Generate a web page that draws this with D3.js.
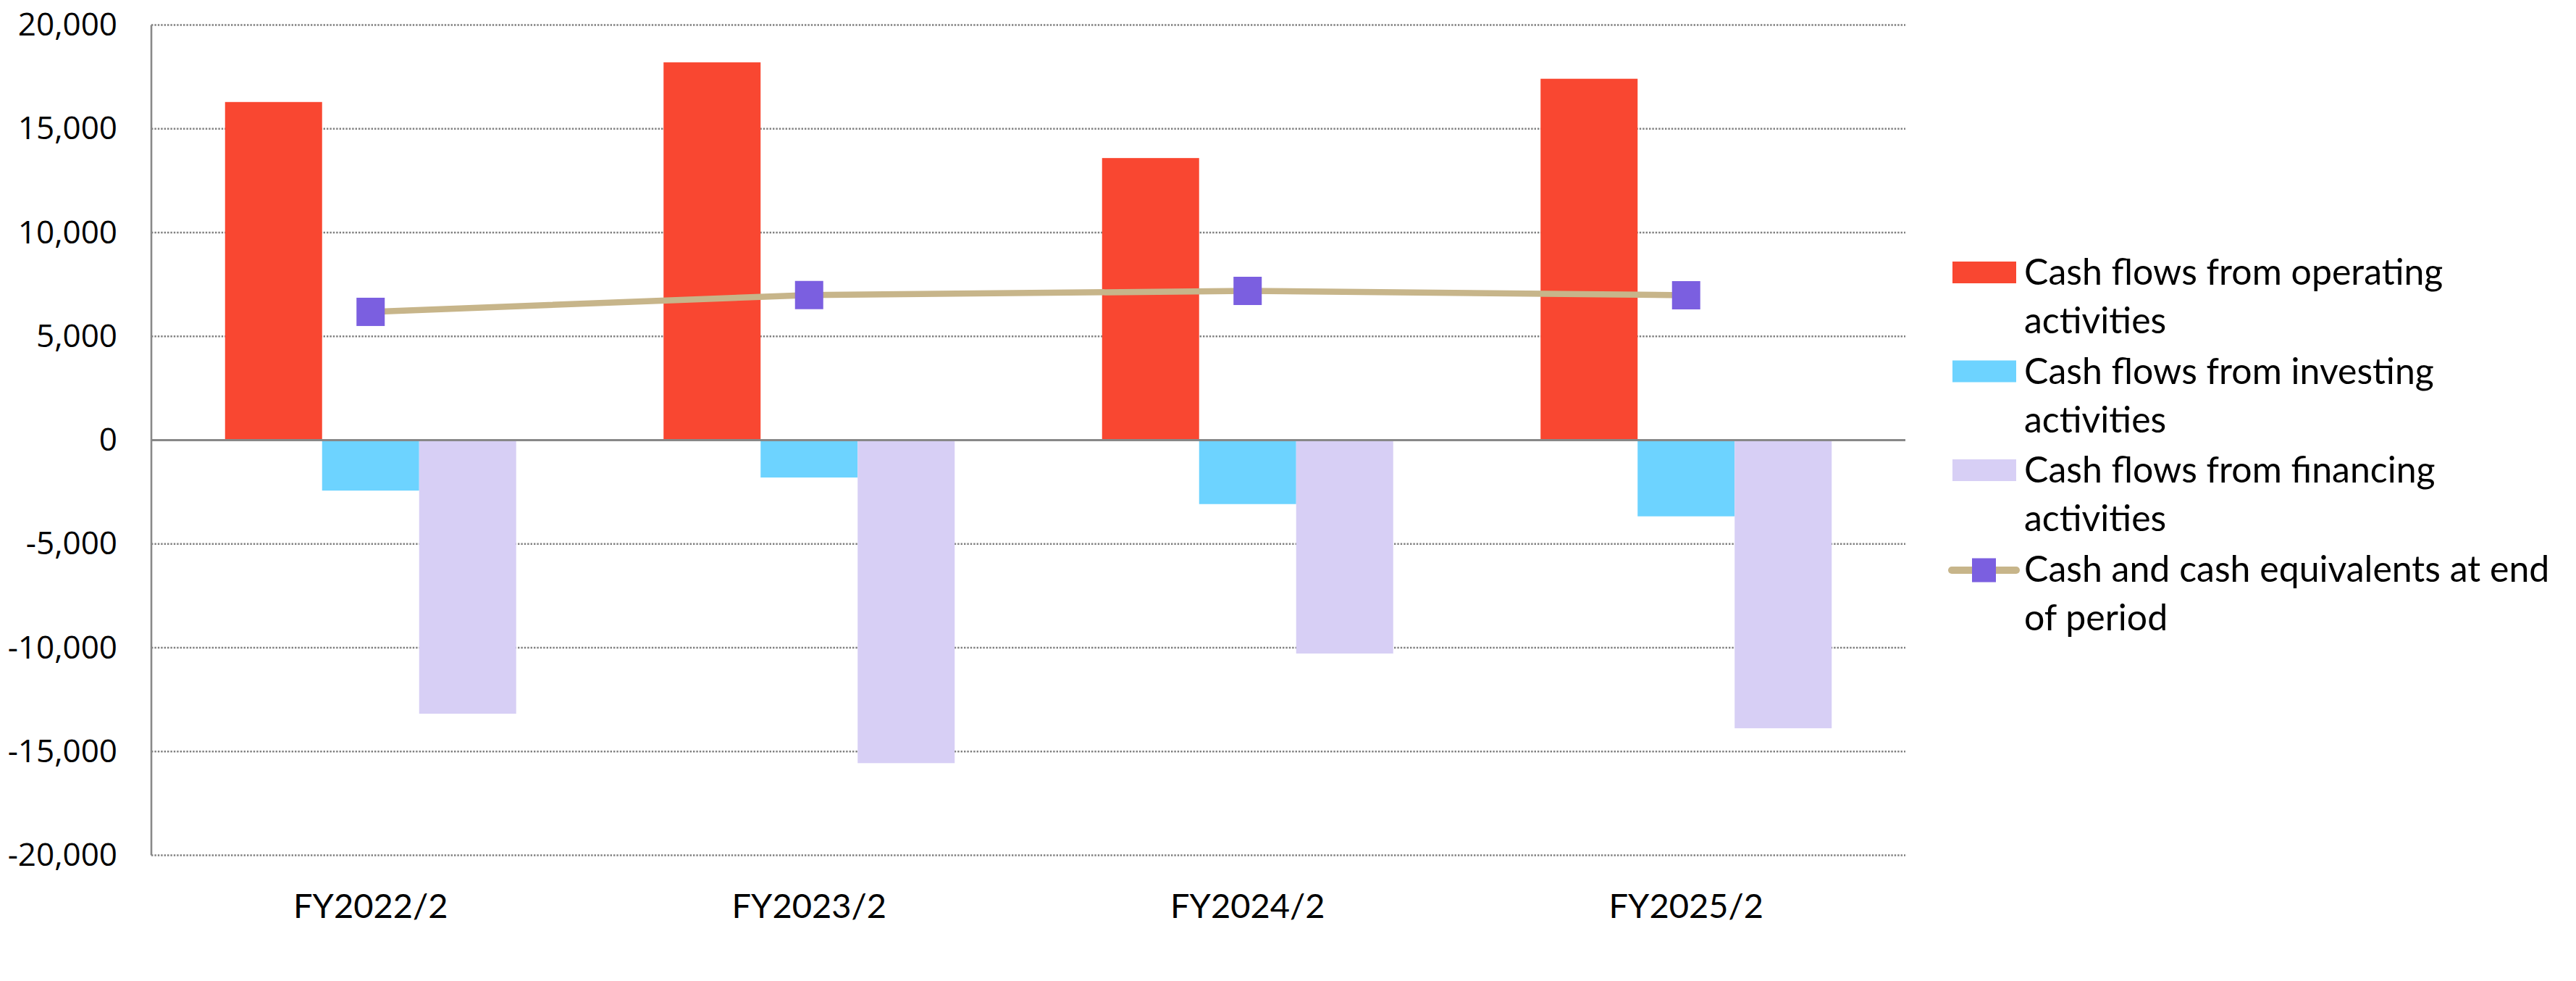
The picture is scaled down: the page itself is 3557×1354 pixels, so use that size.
<!DOCTYPE html>
<html>
<head>
<meta charset="utf-8">
<script src="https://cdn.jsdelivr.net/npm/d3@7"></script>
<style>
  html, body { margin: 0; padding: 0; background: #ffffff; }
  svg { display: block; }
</style>
</head>
<body>
<svg id="chart" width="3557" height="1354"></svg>
<script>
// ---- data ----
const categories = ["FY2022/2", "FY2023/2", "FY2024/2", "FY2025/2"];
const operating = [16290, 18200, 13590, 17410];
const investing = [-2430, -1800, -3080, -3670];
const financing = [-13180, -15560, -10280, -13880];
const cashEnd = [6180, 6990, 7190, 6980];
const yTicks = [-20000, -15000, -10000, -5000, 0, 5000, 10000, 15000, 20000];
const barKeys = ["operating", "investing", "financing"];
const legendLabels = [
  ["Cash flows from operating", "activities"],
  ["Cash flows from investing", "activities"],
  ["Cash flows from financing", "activities"],
  ["Cash and cash equivalents at end", "of period"]
];

// ---- styles ----
const colors = { operating: "#F94731", investing: "#6DD3FF", financing: "#D7CFF5" };
const lineColor = "#C7B58A";
const markerColor = "#7B5FE0";
const gridColor = "#808080";

const plot = { left: 209, right: 2631, top: 34.5, bottom: 1180.5 };
const svg = d3.select("#chart");

const bandPad = 1 - 402 / 605.5;
const x0 = d3.scaleBand().domain(categories).range([plot.left, plot.right])
  .paddingInner(bandPad).paddingOuter(bandPad / 2);
const x1 = d3.scaleBand().domain(barKeys).range([0, x0.bandwidth()]).padding(0);
const y = d3.scaleLinear().domain([-20000, 20000]).range([plot.bottom, plot.top]);

const rows = categories.map((c, i) => ({ cat: c, operating: operating[i], investing: investing[i], financing: financing[i], cash: cashEnd[i] }));

// gridlines (dotted)
svg.append("g").selectAll("line")
  .data(yTicks.filter(v => v !== 0))
  .join("line")
  .attr("x1", plot.left).attr("x2", plot.right)
  .attr("y1", d => y(d)).attr("y2", d => y(d))
  .attr("stroke", gridColor).attr("stroke-width", 2.4)
  .attr("stroke-dasharray", "2.4,2");

// bars
const groups = svg.append("g").selectAll("g")
  .data(rows).join("g")
  .attr("transform", d => `translate(${x0(d.cat)},0)`);
groups.selectAll("rect")
  .data(d => barKeys.map(k => ({ key: k, value: d[k] })))
  .join("rect")
  .attr("x", d => x1(d.key))
  .attr("width", x1.bandwidth())
  .attr("y", d => y(Math.max(0, d.value)))
  .attr("height", d => Math.abs(y(d.value) - y(0)))
  .attr("fill", d => colors[d.key]);

// zero line
svg.append("line")
  .attr("x1", plot.left).attr("x2", plot.right)
  .attr("y1", y(0)).attr("y2", y(0))
  .attr("stroke", "#888888").attr("stroke-width", 2.8);

// y axis
const fmt = v => d3.format(",")(v).replace("\u2212", "-");
const yAxis = svg.append("g")
  .attr("transform", `translate(${plot.left},0)`)
  .call(d3.axisLeft(y).tickValues(yTicks).tickFormat(fmt).tickSize(0).tickPadding(47));
yAxis.select(".domain").remove();
yAxis.selectAll("text")
  .attr("font-family", "'Open Sans', sans-serif")
  .attr("font-size", 44)
  .attr("fill", "#000");
svg.append("line")
  .attr("x1", plot.left).attr("x2", plot.left)
  .attr("y1", plot.top).attr("y2", plot.bottom)
  .attr("stroke", "#888888").attr("stroke-width", 2.6);

// x axis labels
const xAxis = svg.append("g")
  .attr("transform", `translate(0,${plot.bottom})`)
  .call(d3.axisBottom(x0).tickSize(0));
xAxis.select(".domain").remove();
xAxis.selectAll("text")
  .attr("y", 86).attr("dy", null)
  .attr("font-family", "Lato, sans-serif")
  .attr("font-size", 47)
  .attr("fill", "#000");

// line + markers
const cx = d => x0(d.cat) + x0.bandwidth() / 2;
svg.append("path")
  .datum(rows)
  .attr("d", d3.line().x(cx).y(d => y(d.cash)))
  .attr("fill", "none")
  .attr("stroke", lineColor)
  .attr("stroke-width", 8.5);
const ms = 39;
svg.append("g").selectAll("rect")
  .data(rows).join("rect")
  .attr("x", d => cx(d) - ms / 2)
  .attr("y", d => y(d.cash) - ms / 2)
  .attr("width", ms).attr("height", ms)
  .attr("fill", markerColor);

// legend
const lg = svg.append("g");
const legX = 2696, textX = 2795, firstBase = 393, itemGap = 136.5, lineGap = 67;
legendLabels.forEach((lines, i) => {
  const base = firstBase + i * itemGap;
  if (i < 3) {
    lg.append("rect")
      .attr("x", legX).attr("y", base - 32)
      .attr("width", 88).attr("height", 30)
      .attr("fill", colors[barKeys[i]]);
  } else {
    lg.append("line")
      .attr("x1", 2695).attr("x2", 2784)
      .attr("y1", base - 15.5).attr("y2", base - 15.5)
      .attr("stroke", lineColor).attr("stroke-width", 10)
      .attr("stroke-linecap", "round");
    lg.append("rect")
      .attr("x", 2723).attr("y", base - 32)
      .attr("width", 33).attr("height", 33)
      .attr("fill", markerColor);
  }
  lines.forEach((t, j) => {
    lg.append("text")
      .attr("x", textX).attr("y", base + j * lineGap)
      .attr("font-family", "Lato, sans-serif")
      .attr("font-size", 50)
      .attr("fill", "#000")
      .text(t);
  });
});
</script>
</body>
</html>
